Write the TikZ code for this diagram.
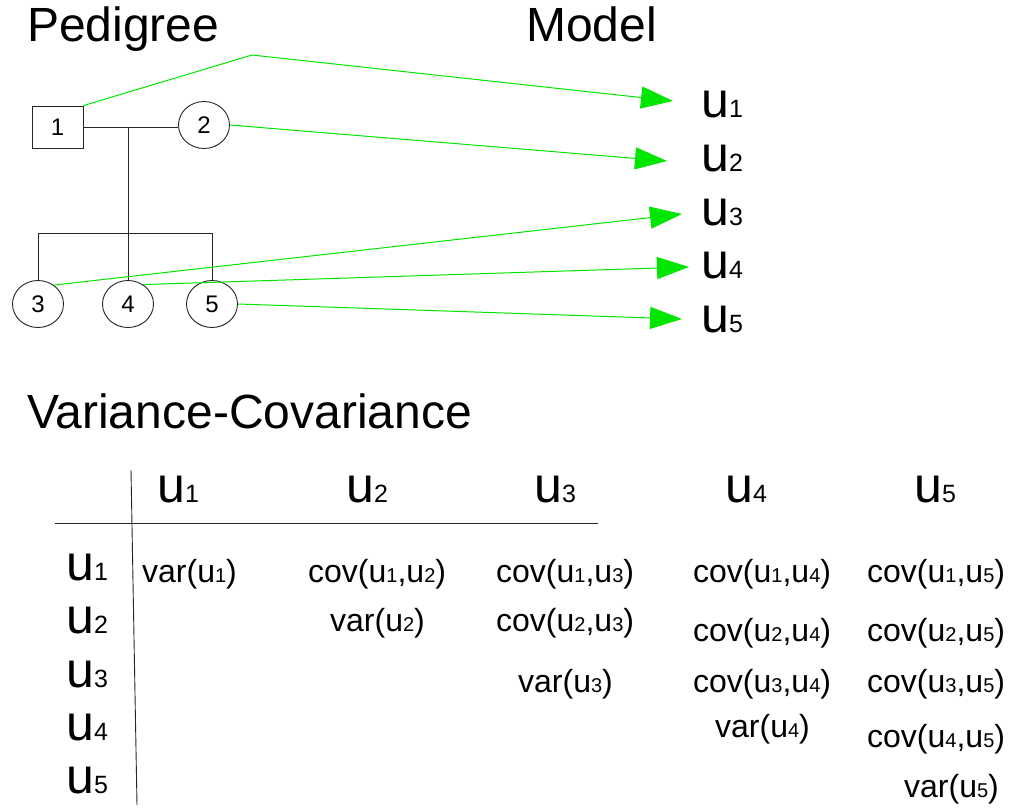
\documentclass[tikz,border=0pt]{standalone}
\usepackage{fontspec}
\setmainfont{Liberation Sans}
\usetikzlibrary{arrows.meta,shapes.geometric}
\definecolor{arrowgreen}{RGB}{0,230,0}
\newcommand{\bigu}[1]{{\fontsize{50}{50}\selectfont u}{\fontsize{25}{25}\selectfont #1}}
\newcommand{\smu}[1]{{\fontsize{32}{32}\selectfont u}{\fontsize{20}{20}\selectfont #1}}
\begin{document}
\begin{tikzpicture}[x=1pt,y=-1pt,
  title/.style={anchor=base west, inner sep=0, font=\fontsize{48}{48}\selectfont},
  ulabel/.style={anchor=base west, inner sep=0},
  cell/.style={anchor=base west, inner sep=0, font=\fontsize{32}{32}\selectfont},
  person/.style={draw=black!85, line width=0.9pt, font=\fontsize{24}{24}\selectfont, inner sep=0},
  female/.style={person, ellipse, minimum width=51pt, minimum height=47pt},
  male/.style={person, rectangle, minimum width=51pt, minimum height=42pt},
  link/.style={draw=arrowgreen, line width=1pt, -{Triangle[length=32pt,width=22pt,fill=arrowgreen]}},
  rule/.style={draw=black!85, line width=0.9pt}]
\useasboundingbox (0,0) rectangle (1021,807);

% titles
\node[title] (tped) at (27,41) {Pedigree};
\node[title] (tmod) at (526,41) {Model};
\node[title] (tvc) at (27,428) {Variance-Covariance};

% pedigree
\node[male] (n1) at (57.5,127) {1};
\node[female] (n2) at (204,125) {2};
\node[female] (n3) at (38,304) {3};
\node[female] (n4) at (128,304) {4};
\node[female] (n5) at (212,304) {5};
\coordinate (m) at (128,127);
\coordinate (s) at (128,233);
\draw[rule] (n1.east) -- (n1.east -| n2.west);
\draw[rule] (m) -- (s);
\draw[rule] (n3.north |- s) -- (n5.north |- s);
\draw[rule] (n3.north |- s) -- (n3.north);
\draw[rule] (s) -- (n4.north);
\draw[rule] (n5.north |- s) -- (n5.north);

% model
\node[ulabel] (m1) at (701,117) {\bigu{1}};
\node[ulabel] (m2) at (701,171) {\bigu{2}};
\node[ulabel] (m3) at (701,225) {\bigu{3}};
\node[ulabel] (m4) at (701,278) {\bigu{4}};
\node[ulabel] (m5) at (701,332) {\bigu{5}};
\coordinate (k1) at (252,55);
\coordinate (t1) at (673,101);
\coordinate (t2) at (667,161);
\coordinate (t3) at (682,214);
\coordinate (t4) at (689,267);
\coordinate (t5) at (682,319);
\draw[link] (n1.north east) -- (k1) -- (t1);
\draw[link] (n2.east) -- (t2);
\draw[link] (n3.50) -- (t3);
\draw[link] (n4.52) -- (t4);
\draw[link] (n5.east) -- (t5);

% table
\node[ulabel] (h1) at (157,502) {\bigu{1}};
\node[ulabel] (h2) at (346,502) {\bigu{2}};
\node[ulabel] (h3) at (534,502) {\bigu{3}};
\node[ulabel] (h4) at (725,502) {\bigu{4}};
\node[ulabel] (h5) at (914,502) {\bigu{5}};
\node[ulabel] (r1) at (66,580) {\bigu{1}};
\node[ulabel] (r2) at (66,633) {\bigu{2}};
\node[ulabel] (r3) at (66,687) {\bigu{3}};
\node[ulabel] (r4) at (66,740) {\bigu{4}};
\node[ulabel] (r5) at (66,793) {\bigu{5}};
\coordinate (hl0) at (55,523);
\coordinate (hl1) at (598,523);
\coordinate (vl0) at (131,470);
\coordinate (vl1) at (137,805);
\draw[rule] (hl0) -- (hl1);
\draw[rule] (vl0) -- (vl1);

\node[cell] (c11) at (142,582) {var(\smu{1})};
\node[cell] (c12) at (308,582) {cov(\smu{1},\smu{2})};
\node[cell] (c13) at (496,582) {cov(\smu{1},\smu{3})};
\node[cell] (c14) at (693,582) {cov(\smu{1},\smu{4})};
\node[cell] (c15) at (867,582) {cov(\smu{1},\smu{5})};
\node[cell] (c22) at (330,631) {var(\smu{2})};
\node[cell] (c23) at (496,631) {cov(\smu{2},\smu{3})};
\node[cell] (c24) at (693,641) {cov(\smu{2},\smu{4})};
\node[cell] (c25) at (867,641) {cov(\smu{2},\smu{5})};
\node[cell] (c33) at (518,692) {var(\smu{3})};
\node[cell] (c34) at (693,692) {cov(\smu{3},\smu{4})};
\node[cell] (c35) at (867,692) {cov(\smu{3},\smu{5})};
\node[cell] (c44) at (715,737) {var(\smu{4})};
\node[cell] (c45) at (867,747) {cov(\smu{4},\smu{5})};
\node[cell] (c55) at (904,797) {var(\smu{5})};
\end{tikzpicture}
\end{document}
